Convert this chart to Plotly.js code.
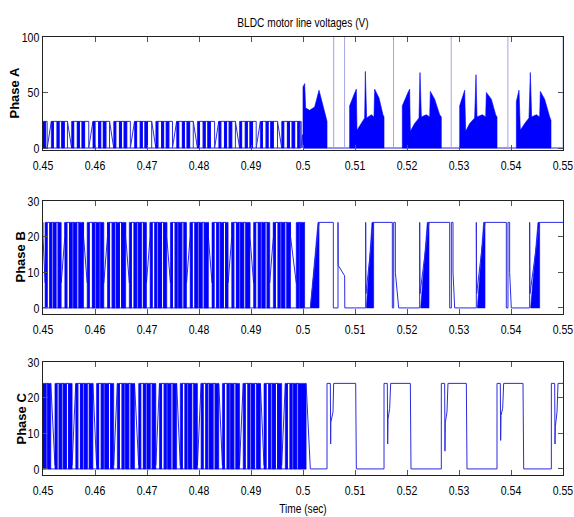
<!DOCTYPE html>
<html><head><meta charset="utf-8">
<script src="https://cdn.plot.ly/plotly-3.0.1.min.js"></script>
<style>html,body{margin:0;padding:0;background:#fff}#plot{width:574px;height:517px}</style>
</head><body><div id="plot"></div>
<script>
// ================= data =================
var xTicks    = [0.45,0.46,0.47,0.48,0.49,0.5,0.51,0.52,0.53,0.54,0.55];
var xTickText = ["0.45","0.46","0.47","0.48","0.49","0.5","0.51","0.52","0.53","0.54","0.55"];
var phaseNames = ["Phase A","Phase B","Phase C"];
var pwmLevel = 24;   // DC link level of the switching pulses (V)

// ---- 0.45 .. 0.50 s : switching pattern, segment boundaries + kind of each segment
// kinds: b = dense switching (solid), o = single pulse outline, d = falling ramp, u = rising ramp
var aSegT = [0.4500,0.4505,0.4508,
 0.4516,0.4520,0.4527,0.4531,0.4536,0.4541,0.4547,
 0.4555,0.4559,0.4566,0.4570,0.4575,0.4580,0.4588,
 0.4596,0.4600,0.4607,0.4611,0.4616,0.4621,0.4628,
 0.4636,0.4640,0.4647,0.4651,0.4656,0.4661,0.4668,
 0.4676,0.4680,0.4687,0.4691,0.4696,0.4701,0.4709,
 0.4717,0.4721,0.4728,0.4732,0.4737,0.4742,0.4749,
 0.4757,0.4761,0.4768,0.4772,0.4777,0.4782,0.4789,
 0.4797,0.4801,0.4808,0.4812,0.4817,0.4822,0.4830,
 0.4838,0.4842,0.4849,0.4853,0.4858,0.4863,0.4870,
 0.4878,0.4882,0.4889,0.4893,0.4898,0.4903,0.4910,
 0.4918,0.4922,0.4929,0.4933,0.4938,0.4943,0.4951,
 0.4959,0.4963,0.4970,0.4974,0.4979,0.4984,0.4990,
 0.4993,0.4996];
var aSegK = "boubobobodboboboubobobodboboboubobobodboboboubobobodboboboubobobodboboboubobobodbobobobo";
var aRamp = [0, 24];

var bSegT = [0.4500,
 0.4504,0.4508,0.4513,0.4517,0.4520,0.4525,0.4529,0.4535,
 0.4542,0.4546,0.4551,0.4556,0.4559,0.4565,0.4569,0.4578,
 0.4585,0.4589,0.4595,0.4599,0.4602,0.4608,0.4611,0.4617,
 0.4624,0.4628,0.4633,0.4638,0.4641,0.4647,0.4651,0.4659,
 0.4666,0.4670,0.4675,0.4680,0.4683,0.4689,0.4693,0.4699,
 0.4706,0.4710,0.4715,0.4719,0.4722,0.4728,0.4732,0.4738,
 0.4745,0.4749,0.4754,0.4758,0.4761,0.4767,0.4771,0.4776,
 0.4783,0.4787,0.4792,0.4797,0.4800,0.4806,0.4810,0.4818,
 0.4825,0.4829,0.4834,0.4838,0.4841,0.4847,0.4851,0.4856,
 0.4863,0.4867,0.4872,0.4877,0.4880,0.4886,0.4890,0.4898,
 0.4905,0.4909,0.4914,0.4918,0.4921,0.4927,0.4931,0.4936,
 0.4943,0.4947,0.4952,0.4956,0.4959,0.4965,0.4969,0.4976,
 0.4987,0.4992,0.4994,0.5003];
var bSegK = "dbobobobubobobobdbobobobubobobobdbobobobubobobobdbobobobubobobobdbobobobubobobobdbobobobubobobobdbob";
var bRamp = [7, 20];

var cSegT = [0.4500,0.4506,0.4509,0.4515,
 0.4523,0.4527,0.4531,0.4536,0.4539,0.4545,0.4549,0.4556,
 0.4563,0.4567,0.4572,0.4576,0.4579,0.4585,0.4589,0.4596,
 0.4603,0.4607,0.4612,0.4616,0.4619,0.4626,0.4630,0.4636,
 0.4643,0.4647,0.4652,0.4656,0.4659,0.4665,0.4669,0.4676,
 0.4684,0.4688,0.4693,0.4697,0.4700,0.4706,0.4710,0.4717,
 0.4724,0.4728,0.4733,0.4737,0.4740,0.4746,0.4750,0.4757,
 0.4764,0.4768,0.4773,0.4777,0.4780,0.4786,0.4790,0.4797,
 0.4804,0.4808,0.4813,0.4817,0.4820,0.4827,0.4831,0.4838,
 0.4845,0.4849,0.4854,0.4858,0.4861,0.4867,0.4871,0.4878,
 0.4885,0.4889,0.4894,0.4898,0.4901,0.4907,0.4911,0.4918,
 0.4925,0.4929,0.4934,0.4938,0.4941,0.4947,0.4951,0.4959,
 0.4966,0.4970,0.4975,0.4979,0.4982,0.4988,0.4991,0.5006];
var cSegK = "bobdbobobobubobobobdbobobobubobobobdbobobobubobobobdbobobobubobobobdbobobobubobobobdbobobobubobobob";
var cRamp = [1, 24];

// ---- 0.50 .. 0.55 s
// Phase A: envelopes of the dense switching blocks (time, volts)
var aEnvT = [
 [0.50000,0.50000,0.50032,0.50051,0.50128,0.50224,0.50308,0.50385,0.50449,0.50462,0.50462],
 [0.50897,0.50897,0.50997,0.51026,0.51038,0.51122,0.51186,0.51199,0.51224,0.51314,0.51365,0.51378,0.51462,0.51538,0.51558,0.51558],
 [0.51910,0.51910,0.52019,0.52051,0.52064,0.52147,0.52231,0.52250,0.52276,0.52372,0.52436,0.52449,0.52532,0.52628,0.52660,0.52660],
 [0.53013,0.53013,0.53109,0.53128,0.53205,0.53301,0.53327,0.53346,0.53449,0.53513,0.53526,0.53622,0.53705,0.53731,0.53731],
 [0.54103,0.54103,0.54154,0.54179,0.54263,0.54346,0.54372,0.54397,0.54487,0.54551,0.54564,0.54647,0.54744,0.54769,0.54769]
];
var aEnvV = [
 [0,55,58,36,34,37,52,38,24,24,0],
 [0,38,50,53,16,22,27,69,27,30,28,53,45,30,28,0],
 [0,38,50,53,15,22,27,68,28,30,28,51,44,30,28,0],
 [0,38,52,15,22,27,66,28,30,28,50,44,30,28,0],
 [0,42,52,16,22,27,68,28,30,28,51,44,28,25,0]
];
var aLineT  = [0.4996,0.4996,0.4999,0.5000,0.5500];
var aLineV  = [24,0,12,0,0];
var aSpikeT = [0.5059,0.5080,0.5174,0.5285,0.5394,0.5500];
var aSpikeV = [130,130,130,130,130,130];

// Phase B: ramps of dense switching + single line
var bTriT = [
 [0.50141,0.50288,0.50308,0.50308],
 [0.51218,0.51327,0.51359,0.51359],
 [0.52263,0.52391,0.52423,0.52423],
 [0.53353,0.53474,0.53500,0.53500],
 [0.54378,0.54519,0.54551,0.54551]
];
var bTriV = [[0,24,24,0],[0,24,24,0],[0,24,24,0],[0,24,24,0],[0,24,24,0]];
var bLineT = [0.5003,0.5003,0.50141,0.50308,0.50583,0.50583,0.50673,0.50673,0.50676,0.50801,0.50804,0.51205,0.51205,0.51210,0.51359,0.51718,0.51718,0.51744,0.51744,0.51776,0.51776,0.51840,0.52244,0.52244,0.52250,0.52423,0.52821,0.52821,0.52853,0.52853,0.52885,0.52885,0.52917,0.53333,0.53333,0.53340,0.53500,0.53910,0.53910,0.53942,0.53942,0.53974,0.53974,0.54006,0.54359,0.54359,0.54365,0.54551,0.5503];
var bLineV = [24,0,0,24,24,0,0,24,12,9,0,0,24,4,24,24,0,0,24,24,10,0,0,24,4,24,24,0,0,24,24,10,0,0,24,4,24,24,0,0,24,24,10,0,0,24,4,24,24];

// Phase C: single line
var cLineT = [0.5006,0.50141,0.50462,0.50462,0.50526,0.50532,0.50535,0.50577,0.50590,0.51013,0.51026,0.51558,0.51558,0.51622,0.51628,0.51635,0.51667,0.51686,0.52064,0.52077,0.52660,0.52660,0.52724,0.52730,0.52737,0.52769,0.52788,0.53141,0.53154,0.53731,0.53731,0.53795,0.53801,0.53808,0.53840,0.53859,0.54231,0.54244,0.54776,0.54776,0.54840,0.54846,0.54853,0.54885,0.54904,0.5503];
var cLineV = [24,0,0,24,24,7,13,16,24,24,0,0,24,24,7,14,17,24,24,0,0,24,24,5,13,16,24,24,0,0,24,24,8,15,17,24,24,0,0,24,24,7,12,16,24,24];

// ================= drawing =================
var BLUE = '#0000ff', THIN = '#2b2be0', SPIKE = '#a4a4e4';
function segments(T, K, lvl, ramp){
  var fx=[],fy=[],lx=[T[0],T[T.length-1],null],ly=[0,0,null];
  for (var i=0;i<K.length;i++){
    var a=T[i], b=T[i+1], k=K.charAt(i);
    if (k==='b'){ fx.push(a,a,b,b,a,null); fy.push(0,lvl,lvl,0,0,null); }
    else if (k==='o'){ lx.push(a,a,b,b,null); ly.push(0,lvl,lvl,0,null); }
    else if (k==='d'){ lx.push(a,a,b,null); ly.push(lvl,ramp[1],ramp[0],null); }
    else if (k==='u'){ lx.push(a,b,b,null); ly.push(ramp[0],ramp[1],lvl,null); }
  }
  return {fx:fx,fy:fy,lx:lx,ly:ly};
}
function polys(T, V){ var x=[],y=[]; for(var i=0;i<T.length;i++){ x=x.concat(T[i],[T[i][0],null]); y=y.concat(V[i],[V[i][0],null]); } return {x:x,y:y}; }
function spikes(T, V){ var x=[],y=[]; for(var i=0;i<T.length;i++){ x.push(T[i],T[i],null); y.push(0,V[i],null);} return {x:x,y:y}; }
function fillTr(x, y, xa, ya){ return {type:'scatter',mode:'lines',x:x,y:y,xaxis:xa,yaxis:ya,fill:'toself',fillcolor:BLUE,line:{color:BLUE,width:0.6},hoverinfo:'skip',showlegend:false}; }
function lineTr(x, y, xa, ya, col){ return {type:'scatter',mode:'lines',x:x,y:y,xaxis:xa,yaxis:ya,line:{color:col||THIN,width:1},hoverinfo:'skip',showlegend:false}; }

var sA = segments(aSegT,aSegK,pwmLevel,aRamp), sB = segments(bSegT,bSegK,pwmLevel,bRamp), sC = segments(cSegT,cSegK,pwmLevel,cRamp);
var eA = polys(aEnvT,aEnvV), tB = polys(bTriT,bTriV), spA = spikes(aSpikeT,aSpikeV);

var traces = [
 lineTr(sA.lx,sA.ly,'x','y'), fillTr(sA.fx,sA.fy,'x','y'),
 lineTr(aLineT,aLineV,'x','y'), fillTr(eA.x,eA.y,'x','y'), lineTr(spA.x,spA.y,'x','y',SPIKE),
 lineTr(sB.lx,sB.ly,'x2','y2'), fillTr(sB.fx,sB.fy,'x2','y2'),
 fillTr(tB.x,tB.y,'x2','y2'), lineTr(bLineT,bLineV,'x2','y2'),
 lineTr(sC.lx,sC.ly,'x3','y3'), fillTr(sC.fx,sC.fy,'x3','y3'),
 lineTr(cLineT,cLineV,'x3','y3')
];

var FAM = '"Liberation Sans",Arial,sans-serif';
var tickFont = {family:FAM,size:13.5,color:'#000'};
function xax(anchor){ return {anchor:anchor,domain:[0,1],range:[0.45,0.5500001],tickvals:xTicks,ticktext:xTickText,ticks:'inside',ticklen:5,tickcolor:'#555',showline:true,linecolor:'#222',linewidth:1,mirror:'ticks',showgrid:false,zeroline:false,tickfont:tickFont,ticklabelstandoff:3,ticklabeloverflow:'allow',automargin:false}; }
function yax(anchor, dom, rng, dt){ return {anchor:anchor,domain:dom,range:rng,dtick:dt,tick0:0,ticks:'inside',ticklen:5,tickcolor:'#555',showline:true,linecolor:'#222',linewidth:1,mirror:'ticks',showgrid:false,zeroline:false,tickfont:tickFont,automargin:false}; }
var yDom = [[0.742,1],[0.3676,0.6256],[0,0.258]];
var labShift = [-28,-23,-22];
var ann = [];
for (var i=0;i<3;i++){ ann.push({text:phaseNames[i],xref:'paper',yref:'paper',x:0,y:(yDom[i][0]+yDom[i][1])/2,xanchor:'center',yanchor:'middle',xshift:labShift[i],textangle:-90,showarrow:false,font:{family:FAM,size:13,color:'#000',weight:'bold'}}); }

var layout = {
 width:574,height:517,paper_bgcolor:'#fff',plot_bgcolor:'#fff',
 margin:{l:43,r:11,t:37,b:42},showlegend:false,
 title:{text:'BLDC motor line voltages (V)',font:{family:FAM,size:13,color:'#000'},x:0.5,xref:'paper',y:1-22/517,yref:'container',xanchor:'center',yanchor:'middle'},
 xaxis:xax('y'),  yaxis:yax('x',yDom[0],[-1.8,100],50),
 xaxis2:xax('y2'), yaxis2:yax('x2',yDom[1],[-1.7,30],10),
 xaxis3:Object.assign(xax('y3'),{title:{text:'Time (sec)',font:{family:FAM,size:13,color:'#000'},standoff:6}}),
 yaxis3:yax('x3',yDom[2],[-1.7,30],10),
 annotations:ann
};
Plotly.newPlot('plot',traces,layout,{staticPlot:true,displayModeBar:false}).then(function(gd){
  // narrow (Arial Narrow-like) lettering for tick labels and titles
  var sel = gd.querySelectorAll('g.xtick text,g.x2tick text,g.x3tick text,g.ytick text,g.y2tick text,g.y3tick text,text.gtitle,text.x3title');
  for (var i=0;i<sel.length;i++){
    var t=sel[i], w=t.getComputedTextLength();
    if(w>0){
      var wn = w*0.78;
      t.setAttribute('textLength',wn.toFixed(1)); t.setAttribute('lengthAdjust','spacingAndGlyphs');
      // last x label sits at the right edge: anchor it at its end so it stays inside the page
      if (t.textContent===xTickText[xTickText.length-1] && /x\d?tick/.test(t.parentNode.getAttribute('class')||'')){
        var x0 = parseFloat(t.getAttribute('x')||'0');
        t.setAttribute('text-anchor','end'); t.setAttribute('x',(x0+wn/2).toFixed(1));
      }
    }
  }
});
</script></body></html>
